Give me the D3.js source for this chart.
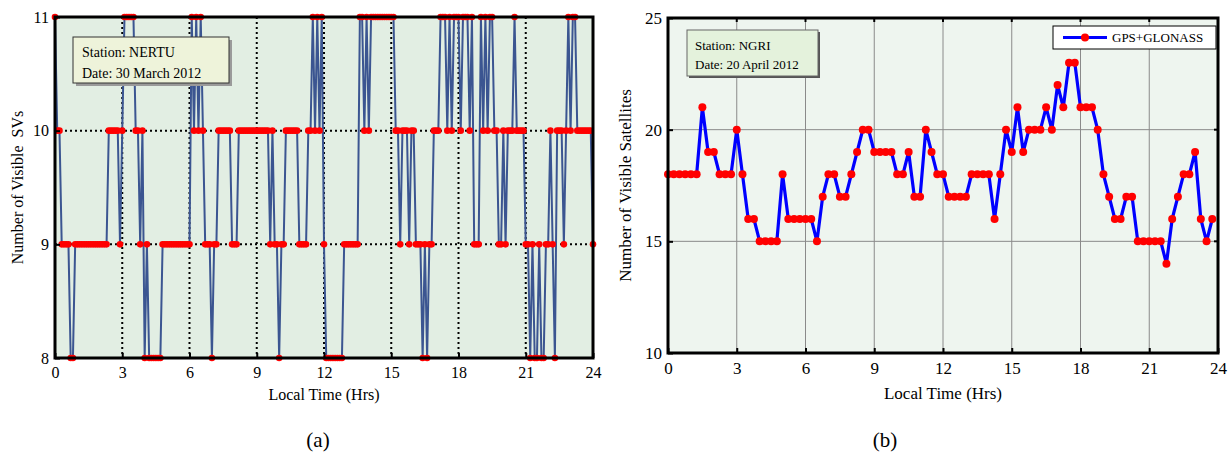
<!DOCTYPE html>
<html><head><meta charset="utf-8">
<script src="https://cdn.jsdelivr.net/npm/d3@7"></script>
<style>
body{margin:0;background:#fff;}
text{font-family:"Liberation Serif","Times New Roman",serif;}
</style></head>
<body>
<svg id="c" width="1231" height="453"></svg>
<script>
// ---- Data ----
// (a) NERTU, 30 March 2012: visible SVs sampled every 0.1 h (0..24)
const nertuStep = 0.1;
const nertuSVs = [
  11,10,10,9,9,9,9,8,8,9,      // 0
  9,9,9,9,9,9,9,9,9,9,         // 1
  9,9,9,9,10,10,10,10,10,9,    // 2
  10,11,11,11,11,11,10,10,9,10,// 3
  8,9,8,8,8,8,8,8,9,9,         // 4
  9,9,9,9,9,9,9,9,9,9,         // 5
  9,11,10,11,10,11,10,9,9,9,   // 6
  8,9,9,10,10,10,10,10,10,9,   // 7
  9,9,10,10,10,10,10,10,10,10, // 8
  10,10,10,10,10,10,9,10,9,9,  // 9
  8,9,9,10,10,10,10,10,10,9,   // 10
  9,9,9,10,10,11,10,11,10,11,  // 11
  9,8,8,8,8,8,8,8,8,9,         // 12
  9,9,9,9,9,9,11,11,10,11,     // 13
  10,11,11,11,11,11,11,11,11,11,// 14
  11,11,10,10,9,10,10,10,9,10, // 15
  10,9,9,9,8,9,8,9,9,10,       // 16
  10,10,11,11,11,10,11,10,11,11,// 17
  11,10,11,11,11,10,11,9,9,9,  // 18
  11,10,11,10,11,11,10,10,9,9, // 19
  10,9,10,10,10,11,10,10,10,10,// 20
  9,9,8,9,8,8,9,8,8,9,         // 21
  9,10,9,8,10,10,10,9,10,11,   // 22
  10,11,11,10,10,10,10,10,10,10,// 23
  9                            // 24
];
// (b) NGRI, 20 April 2012: GPS+GLONASS visible satellites every 0.25 h
const ngriStep = 0.25;
const ngriSats = [
  18,18,18,18, 18,18,21,19, 19,18,18,18,   // 0-2.75
  20,18,16,16, 15,15,15,15, 18,16,16,16,   // 3-5.75
  16,16,15,17, 18,18,17,17, 18,19,20,20,   // 6-8.75
  19,19,19,19, 18,18,19,17, 17,20,19,18,   // 9-11.75
  18,17,17,17, 17,18,18,18, 18,16,18,20,   // 12-14.75
  19,21,19,20, 20,20,21,20, 22,21,23,23,   // 15-17.75
  21,21,21,20, 18,17,16,16, 17,17,15,15,   // 18-20.75
  15,15,15,14, 16,17,18,18, 19,16,15,16    // 21-23.75
];
const xTicks = [0,3,6,9,12,15,18,21,24];
const yTicksA = [8,9,10,11];
const yTicksB = [10,15,20,25];

const svg = d3.select("#c");

// ================= Panel (a) =================
(function(){
  const L=55,R=593,T=17,B=358;
  const x=d3.scaleLinear().domain([0,24]).range([L,R]);
  const y=d3.scaleLinear().domain([8,11]).range([B,T]);
  const g=svg.append("g");
  g.append("rect").attr("x",L).attr("y",T).attr("width",R-L).attr("height",B-T).attr("fill","#e2eee3");
  // dotted grid
  g.selectAll(".gx").data(xTicks.slice(1,-1)).join("line")
    .attr("x1",d=>x(d)).attr("x2",d=>x(d)).attr("y1",T).attr("y2",B)
    .attr("stroke","#000").attr("stroke-width",2).attr("stroke-dasharray","2,3");
  g.selectAll(".gy").data(yTicksA.slice(1,-1)).join("line")
    .attr("x1",L).attr("x2",R).attr("y1",d=>y(d)).attr("y2",d=>y(d))
    .attr("stroke","#000").attr("stroke-width",2).attr("stroke-dasharray","2,3");
  const pts=nertuSVs.map((v,i)=>[i*nertuStep,v]);
  g.append("path").datum(pts)
    .attr("d",d3.line().x(d=>x(d[0])).y(d=>y(d[1])))
    .attr("fill","none").attr("stroke","#3b5591").attr("stroke-width",2);
  g.selectAll(".m").data(pts).join("circle")
    .attr("cx",d=>x(d[0])).attr("cy",d=>y(d[1])).attr("r",3.3).attr("fill","#ff0000");
  // border
  g.append("rect").attr("x",L).attr("y",T).attr("width",R-L).attr("height",B-T)
    .attr("fill","none").attr("stroke","#000").attr("stroke-width",3);
  // axes
  const xa=g.append("g").attr("transform",`translate(0,${B})`)
    .call(d3.axisBottom(x).tickValues(xTicks).tickSize(-5).tickPadding(8).tickFormat(d3.format("d")));
  const ya=g.append("g").attr("transform",`translate(${L},0)`)
    .call(d3.axisLeft(y).tickValues(yTicksA).tickSize(-5).tickPadding(6).tickFormat(d3.format("d")));
  [xa,ya].forEach(a=>{a.select(".domain").remove();
    a.selectAll("line").attr("stroke","#000").attr("stroke-width",2);
    a.selectAll("text").attr("font-size",16).attr("fill","#000")
     .attr("font-family","'Liberation Serif',serif");});
  xa.selectAll("text").attr("dy","0.75em");
  g.append("text").attr("x",(L+R)/2).attr("y",400).attr("text-anchor","middle")
    .attr("font-size",16).text("Local Time (Hrs)");
  g.append("text").attr("transform",`translate(23,${(T+B)/2}) rotate(-90)`).attr("text-anchor","middle")
    .attr("font-size",16).attr("xml:space","preserve").text("Number of Visible  SVs");
  // annotation
  g.append("rect").attr("x",76).attr("y",40).attr("width",156).attr("height",46).attr("fill","#9a9a9a");
  g.append("rect").attr("x",73).attr("y",37).attr("width",156).attr("height",46)
    .attr("fill","#eef3da").attr("stroke","#333").attr("stroke-width",1);
  g.append("text").attr("x",82).attr("y",57).attr("font-size",14).text("Station: NERTU");
  g.append("text").attr("x",82).attr("y",78).attr("font-size",14).text("Date: 30 March 2012");
  g.append("text").attr("x",318).attr("y",447).attr("text-anchor","middle").attr("font-size",21).text("(a)");
})();

// ================= Panel (b) =================
(function(){
  const L=668,R=1218,T=18,B=353;
  const x=d3.scaleLinear().domain([0,24]).range([L,R]);
  const y=d3.scaleLinear().domain([10,25]).range([B,T]);
  const g=svg.append("g");
  g.append("rect").attr("x",L).attr("y",T).attr("width",R-L).attr("height",B-T).attr("fill","#eef5ef");
  g.selectAll(".gx").data(xTicks.slice(1,-1)).join("line")
    .attr("x1",d=>x(d)).attr("x2",d=>x(d)).attr("y1",T).attr("y2",B)
    .attr("stroke","#8a8a8a").attr("stroke-width",1);
  g.selectAll(".gy").data(yTicksB.slice(1,-1)).join("line")
    .attr("x1",L).attr("x2",R).attr("y1",d=>y(d)).attr("y2",d=>y(d))
    .attr("stroke","#8a8a8a").attr("stroke-width",1);
  // inner ticks top/right
  g.selectAll(".tt").data(xTicks.slice(1,-1)).join("line")
    .attr("x1",d=>x(d)).attr("x2",d=>x(d)).attr("y1",T).attr("y2",T+4).attr("stroke","#000").attr("stroke-width",2);
  g.selectAll(".tr").data(yTicksB.slice(1,-1)).join("line")
    .attr("x1",R).attr("x2",R-4).attr("y1",d=>y(d)).attr("y2",d=>y(d)).attr("stroke","#000").attr("stroke-width",2);
  const pts=ngriSats.map((v,i)=>[i*ngriStep,v]);
  g.append("path").datum(pts)
    .attr("d",d3.line().x(d=>x(d[0])).y(d=>y(d[1])))
    .attr("fill","none").attr("stroke","#0000ff").attr("stroke-width",3.2).attr("stroke-linejoin","round");
  g.selectAll(".m").data(pts).join("circle")
    .attr("cx",d=>x(d[0])).attr("cy",d=>y(d[1])).attr("r",4).attr("fill","#ff0000");
  g.append("rect").attr("x",L).attr("y",T).attr("width",R-L).attr("height",B-T)
    .attr("fill","none").attr("stroke","#000").attr("stroke-width",3);
  const xa=g.append("g").attr("transform",`translate(0,${B})`)
    .call(d3.axisBottom(x).tickValues(xTicks).tickSize(-5).tickPadding(8).tickFormat(d3.format("d")));
  const ya=g.append("g").attr("transform",`translate(${L},0)`)
    .call(d3.axisLeft(y).tickValues(yTicksB).tickSize(-5).tickPadding(6).tickFormat(d3.format("d")));
  [xa,ya].forEach(a=>{a.select(".domain").remove();
    a.selectAll("line").attr("stroke","#000").attr("stroke-width",2);
    a.selectAll("text").attr("font-size",17).attr("fill","#000")
     .attr("font-family","'Liberation Serif',serif");});
  xa.selectAll("text").attr("dy","0.75em");
  g.append("text").attr("x",(L+R)/2).attr("y",399).attr("text-anchor","middle")
    .attr("font-size",17).text("Local Time (Hrs)");
  g.append("text").attr("transform",`translate(631,${(T+B)/2}) rotate(-90)`).attr("text-anchor","middle")
    .attr("font-size",17).text("Number of Visible Satellites");
  // annotation
  g.append("rect").attr("x",689).attr("y",32).attr("width",131).attr("height",46).attr("fill","#555");
  g.append("rect").attr("x",687).attr("y",30).attr("width",131).attr("height",46)
    .attr("fill","#e4f2dc").attr("stroke","#666").attr("stroke-width",1);
  g.append("text").attr("x",695).attr("y",50).attr("font-size",13).text("Station: NGRI");
  g.append("text").attr("x",695).attr("y",69).attr("font-size",13).text("Date: 20 April 2012");
  // legend
  g.append("rect").attr("x",1053).attr("y",26).attr("width",163).attr("height",23)
    .attr("fill","#fff").attr("stroke","#000").attr("stroke-width",1);
  g.append("line").attr("x1",1063).attr("x2",1107).attr("y1",37.5).attr("y2",37.5)
    .attr("stroke","#0000ff").attr("stroke-width",3.2);
  g.append("circle").attr("cx",1085).attr("cy",37.5).attr("r",4).attr("fill","#ff0000");
  g.append("text").attr("x",1112).attr("y",42).attr("font-size",13).text("GPS+GLONASS");
  g.append("text").attr("x",885).attr("y",447).attr("text-anchor","middle").attr("font-size",21).text("(b)");
})();
</script>
</body></html>
